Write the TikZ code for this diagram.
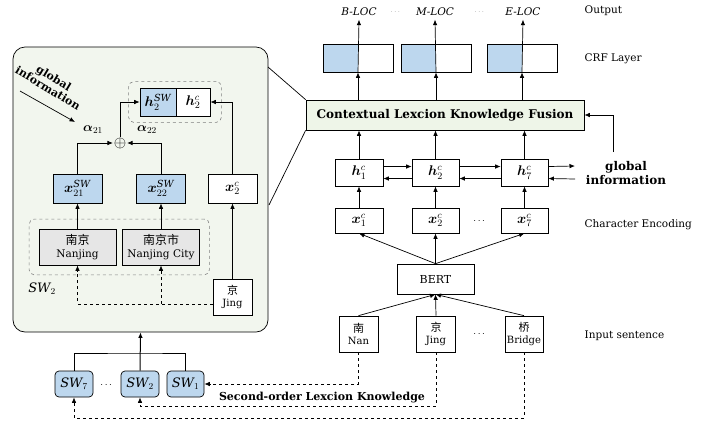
\RequirePackage{fix-cm}
\documentclass[tikz,border=0pt]{standalone}
\usepackage{amsmath,bm}
\usepackage{fontspec}
\setmainfont{DejaVu Serif}
\newfontfamily\cjk{Noto Sans CJK SC}
\usetikzlibrary{arrows.meta, positioning, calc, fit}
\definecolor{cellblue}{RGB}{189,215,238}
\definecolor{panelgreen}{RGB}{242,246,238}
\definecolor{fusiongreen}{RGB}{238,245,232}
\definecolor{wordgray}{RGB}{230,230,230}

\begin{document}
\begin{tikzpicture}[x=1pt, y=-1pt, >={Latex[length=5.5pt,width=4.5pt]}, line width=0.7pt,
    box/.style={draw, fill=white, inner sep=0pt, font=\fontsize{14}{16}\selectfont},
    swbox/.style={box, fill=cellblue},
    wordbox/.style={draw, fill=wordgray, align=center, minimum width=77pt, minimum height=36pt, inner sep=0pt, font=\fontsize{10.5}{13}\selectfont},
    charbox/.style={draw, fill=white, align=center, minimum width=39pt, minimum height=36pt, inner sep=0pt, font=\fontsize{10}{12}\selectfont},
    crfbox/.style={draw, minimum width=70pt, minimum height=28pt, inner sep=0pt,
        path picture={\fill[cellblue] (path picture bounding box.south west) rectangle (path picture bounding box.north);}},
    grpbox/.style={draw=gray, dashed, rounded corners=5pt, line width=0.6pt},
    lay/.style={anchor=west, font=\fontsize{10.5}{12}\selectfont},
    tag/.style={font=\fontsize{10.5}{12}\selectfont\itshape},
    bold/.style={font=\fontsize{11}{12}\selectfont\bfseries}
]
    \useasboundingbox (0,0) rectangle (704,424);

    % Left panel (lexicon knowledge of one character)
    \node[draw, fill=panelgreen, rounded corners=12pt, minimum width=255pt, minimum height=285pt, inner sep=0pt] (panel) at (140.5,189.5) {};

    \node[swbox, minimum width=36pt, minimum height=28pt] (h2sw) at (158,102) {$\bm{h}_2^{\mathit{SW}}$};
    \node[box, minimum width=34pt, minimum height=28pt] (h2c) at (193,102) {$\bm{h}_2^{c}$};
    \node[grpbox, fit=(h2sw)(h2c), inner xsep=11pt, inner ysep=6pt] (hgrp) {};

    \node[inner sep=0.5pt, font=\fontsize{16}{16}\selectfont] (oplus) at (120,143) {$\oplus$};
    \node[font=\fontsize{13}{13}\selectfont] (a21) at (93,130) {$\bm{\alpha}_{21}$};
    \node[font=\fontsize{13}{13}\selectfont] (a22) at (147,130) {$\bm{\alpha}_{22}$};

    \node[font=\fontsize{11}{11.5}\selectfont\bfseries, rotate=-31, align=center] (ginfoL) at (51,83) {global\\information};
    \coordinate (gstart) at (20,91);
    \coordinate (gend) at (75,122);

    \node[swbox, minimum width=49pt, minimum height=29pt] (x21sw) at (77.5,188.5) {$\bm{x}_{21}^{\mathit{SW}}$};
    \node[swbox, minimum width=49pt, minimum height=29pt] (x22sw) at (161,188.5) {$\bm{x}_{22}^{\mathit{SW}}$};
    \node[box, minimum width=49pt, minimum height=29pt] (x2c) at (232.5,188.5) {$\bm{x}_2^{c}$};

    \node[wordbox] (nj) at (77.5,247) {{\cjk\fontsize{12}{13}\selectfont 南京}\\Nanjing};
    \node[wordbox] (njc) at (161,247) {{\cjk\fontsize{12}{13}\selectfont 南京市}\\Nanjing City};
    \node[grpbox, fit=(nj)(njc), inner sep=9.5pt] (wgrp) {};
    \node[font=\fontsize{13}{13}\selectfont] (sw2lab) at (42,289) {$\mathit{SW}_2$};

    \node[charbox] (jing) at (232.5,297) {{\cjk\fontsize{11}{12}\selectfont 京}\\Jing};
    \coordinate (jdash) at ([yshift=-7pt]jing.west);

    \draw[->] (gstart) -- (gend);
    \draw[->] (x21sw.north) |- (oplus.west);
    \draw[->] (x22sw.north) |- (oplus.east);
    \draw[->] (oplus.north) |- (h2sw.west);
    \draw[->] (x2c.north) |- (h2c.east);
    \draw[->] (nj.north) -- (x21sw.south);
    \draw[->] (njc.north) -- (x22sw.south);
    \draw[->] (jing.north) -- (x2c.south);
    \draw[dashed, ->] (jdash) -| (nj.south);
    \draw[dashed, ->] (jdash -| njc.south) -- (njc.south);

    % Second-order lexicon knowledge
    \node[swbox, rounded corners=4pt, minimum width=38pt, minimum height=26pt, font=\fontsize{13}{14}\selectfont] (sw7) at (74,384) {$\mathit{SW}_7$};
    \node[swbox, rounded corners=4pt, minimum width=38pt, minimum height=26pt, font=\fontsize{13}{14}\selectfont] (sw2) at (140,384) {$\mathit{SW}_2$};
    \node[swbox, rounded corners=4pt, minimum width=37pt, minimum height=26pt, font=\fontsize{13}{14}\selectfont] (sw1) at (185.5,384) {$\mathit{SW}_1$};
    \node[font=\bfseries] (swdots) at (107,385) {$\cdots$};
    \coordinate (swbar) at (140,353);
    \draw (sw7.north) |- (swbar) -| (sw1.north);
    \draw[->, line width=1pt] (sw2.north) -- (panel.south);
    \node[bold] (solk) at (322,398) {Second-order Lexcion Knowledge};

    % Right side: output and CRF
    \node[tag] (bloc) at (359,12) {B-LOC};
    \node[tag] (mloc) at (435,12) {M-LOC};
    \node[tag] (eloc) at (523,12) {E-LOC};
    \node[font=\tiny] (odots1) at (396,12) {$\cdots$};
    \node[font=\tiny] (odots2) at (480,12) {$\cdots$};
    \node[lay] (outlab) at (581,11) {Output};

    \node[crfbox] (crf1) at (358,58) {};
    \node[crfbox] (crf2) at (436,58) {};
    \node[crfbox] (crf3) at (522,58) {};
    \node[lay] (crflab) at (581,59) {CRF Layer};

    \node[draw, fill=fusiongreen, minimum width=278pt, minimum height=30pt, font=\fontsize{12}{14}\selectfont\bfseries] (fusion) at (445,115) {Contextual Lexcion Knowledge Fusion};
    \coordinate (p1) at (268,67);
    \coordinate (p2) at (269,205);
    \draw (p1) -- (fusion.north west);
    \draw (p2) -- (fusion.south west);

    \foreach \c/\o in {crf1/bloc, crf2/mloc, crf3/eloc} {
        \draw[->] (fusion.north -| \c) -- (\c.south);
        \draw[->] (\c.south) -- (\o.south);
    }

    % Contextual encoding
    \node[box, minimum width=48pt, minimum height=27pt] (h1) at (359,172.5) {$\bm{h}_1^{c}$};
    \node[box, minimum width=47pt, minimum height=27pt] (h2) at (435.5,172.5) {$\bm{h}_2^{c}$};
    \node[box, minimum width=47pt, minimum height=27pt] (h7) at (524.5,172.5) {$\bm{h}_7^{c}$};
    \node[font=\fontsize{12}{14}\selectfont\bfseries, align=center] (ginfoR) at (626,173) {global\\information};
    \coordinate (gi) at (613,152);
    \coordinate (hr) at (575,166);
    \coordinate (hl) at (575,179);
    \draw[->] (gi) |- (fusion.east);

    \foreach \a/\b in {h1/h2, h2/h7} {
        \draw[->] ([yshift=6pt]\a.east) -- ([yshift=6pt]\b.west);
        \draw[->] ([yshift=-6pt]\b.west) -- ([yshift=-6pt]\a.east);
    }
    \draw[->] ([yshift=6pt]h7.east) -- (hr);
    \draw[->] (hl) -- ([yshift=-6pt]h7.east);

    \node[box, minimum width=48pt, minimum height=25pt] (x1) at (359,220.5) {$\bm{x}_1^{c}$};
    \node[box, minimum width=47pt, minimum height=25pt] (x2) at (435.5,220.5) {$\bm{x}_2^{c}$};
    \node[box, minimum width=47pt, minimum height=25pt] (x7) at (524.5,220.5) {$\bm{x}_7^{c}$};
    \node[font=\bfseries] (xdots) at (480,221) {$\cdots$};
    \node[lay] (charlab) at (581,225) {Character Encoding};

    \foreach \n in {1,2,7} {
        \draw[->] (x\n.north) -- (h\n.south);
        \draw[->] (h\n.north) -- (fusion.south -| h\n);
    }

    \node[draw, minimum width=77pt, minimum height=30pt, font=\fontsize{11}{12}\selectfont] (bert) at (435.5,279) {BERT};
    \foreach \n in {1,2,7}
        \draw[->] (bert.north) -- (x\n.south);

    % Input sentence
    \node[charbox] (nan) at (358.5,334) {{\cjk\fontsize{11}{12}\selectfont 南}\\Nan};
    \node[charbox] (jingr) at (436,334) {{\cjk\fontsize{11}{12}\selectfont 京}\\Jing};
    \node[charbox, minimum width=38pt] (bridge) at (524,334) {{\cjk\fontsize{11}{12}\selectfont 桥}\\Bridge};
    \node[font=\bfseries] (idots) at (480,334) {$\cdots$};
    \node[lay] (inlab) at (581,336) {Input sentence};
    \foreach \n in {nan, jingr, bridge}
        \draw[->] (\n.north) -- (bert.south);

    \coordinate (d2) at (436,406);
    \coordinate (d7) at (524,418);
    \draw[dashed, ->] (nan.south) |- (sw1.east);
    \draw[dashed, ->] (jingr.south) -- (d2) -| (sw2.south);
    \draw[dashed, ->] (bridge.south) -- (d7) -| (sw7.south);
\end{tikzpicture}
\end{document}
